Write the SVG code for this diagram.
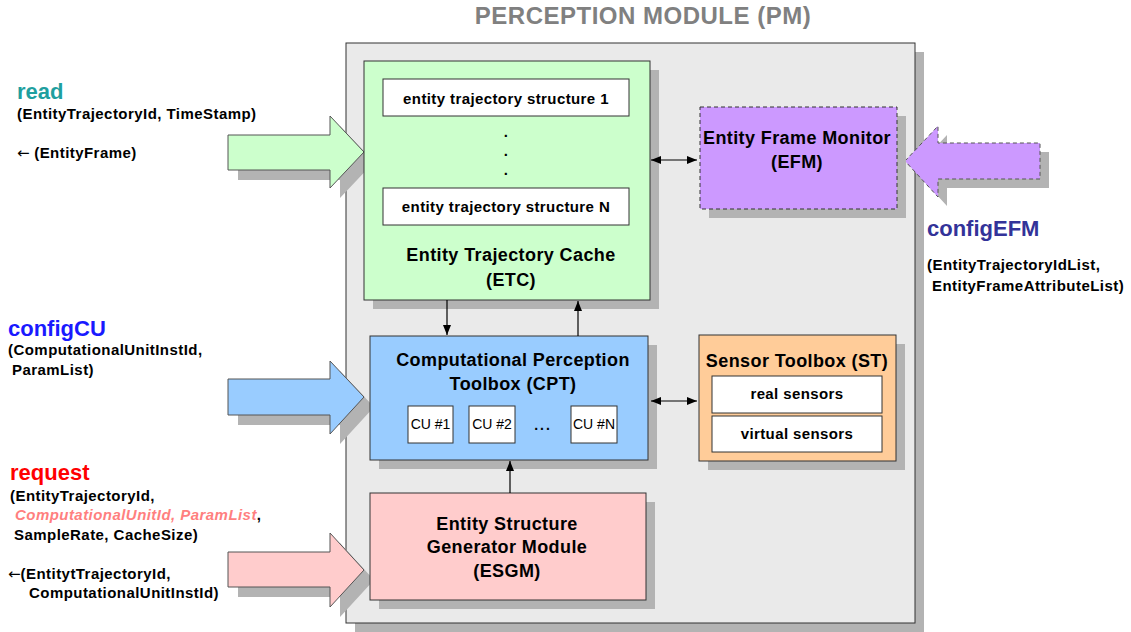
<svg xmlns="http://www.w3.org/2000/svg" width="1131" height="632" viewBox="0 0 1131 632">
<style>
text{font-family:"Liberation Sans",Arial,sans-serif;font-weight:bold;fill:#000}
.t{font-size:24px;fill:#808080;letter-spacing:0.5px}
.op{font-size:22px}
.p{font-size:15px;letter-spacing:0.45px}
.l{font-size:18px;letter-spacing:0.4px;text-anchor:middle}
.s{font-size:15px;letter-spacing:0.4px;text-anchor:middle}
.cu{font-size:14px;font-weight:normal;text-anchor:middle}
.arw{font-family:"DejaVu Sans",sans-serif;font-weight:normal;letter-spacing:0}
.sh{fill:#b3b3b3}
.bx{stroke:#333;stroke-width:1}
.ar{stroke:#555;stroke-width:1}
.cn{stroke:#000;stroke-width:1.2;fill:none}
</style>
<defs>
<marker id="ah" markerUnits="userSpaceOnUse" markerWidth="10" markerHeight="8" refX="10" refY="4" orient="auto-start-reverse">
<path d="M0,0 L10,4 L0,8 z" fill="#000"/>
</marker>
</defs>
<rect width="1131" height="632" fill="#fff"/>
<text class="t" x="643" y="24" text-anchor="middle">PERCEPTION MODULE (PM)</text>

<g id="pm">
<rect class="sh" x="355" y="52" width="569" height="580"/>
<rect class="bx" x="346" y="43" width="569" height="580" fill="#eaeaea"/>
</g>

<g id="read-arrow">
<polygon class="sh" points="238,145 340,145 340,126 374,162 340,198 340,180 238,180"/>
<polygon class="ar" points="228,135 330,135 330,116 364,152 330,188 330,170 228,170" fill="#ccffcc"/>
</g>
<g id="configcu-arrow">
<polygon class="sh" points="238,389 340,389 340,371 374,407 340,444 340,425 238,425"/>
<polygon class="ar" points="228,379 330,379 330,361 364,397 330,434 330,415 228,415" fill="#99ccff"/>
</g>
<g id="request-arrow">
<polygon class="sh" points="238,562 340,562 340,543 374,580 340,617 340,597 238,597"/>
<polygon class="ar" points="228,552 330,552 330,533 364,570 330,607 330,587 228,587" fill="#ffcccc"/>
</g>
<g id="configefm-arrow">
<polygon class="sh" points="914,170 947,135 947,152 1049,152 1049,188 947,188 947,206"/>
<polygon class="ar" points="905,161 938,126 938,143 1040,143 1040,179 938,179 938,197" fill="#cc99ff" stroke="#333" stroke-dasharray="4,3"/>
</g>

<g id="etc">
<rect class="sh" x="373" y="70" width="286" height="239"/>
<rect class="bx" x="364" y="61" width="286" height="239" fill="#ccffcc"/>
<rect class="bx" x="383" y="79" width="246" height="37" fill="#fff"/>
<text class="s" x="506" y="104">entity trajectory structure 1</text>
<text class="s" x="506" y="137">.</text>
<text class="s" x="506" y="156">.</text>
<text class="s" x="506" y="175">.</text>
<rect class="bx" x="383" y="188" width="246" height="37" fill="#fff"/>
<text class="s" x="506" y="212">entity trajectory structure N</text>
<text class="l" x="511" y="261">Entity Trajectory Cache</text>
<text class="l" x="511" y="286">(ETC)</text>
</g>

<g id="efm">
<rect class="sh" x="709" y="116" width="197" height="102"/>
<rect x="700" y="107" width="197" height="102" fill="#cc99ff" stroke="#333" stroke-dasharray="4,3"/>
<text class="l" x="797" y="144">Entity Frame Monitor</text>
<text class="l" x="797" y="168">(EFM)</text>
</g>

<g id="cpt">
<rect class="sh" x="379" y="345" width="278" height="124"/>
<rect class="bx" x="370" y="336" width="278" height="124" fill="#99ccff"/>
<text class="l" x="513" y="366">Computational Perception</text>
<text class="l" x="513" y="390">Toolbox (CPT)</text>
<rect class="bx" x="408" y="406" width="45" height="37" fill="#fff"/>
<text class="cu" x="430.5" y="429">CU #1</text>
<rect class="bx" x="469" y="406" width="46" height="37" fill="#fff"/>
<text class="cu" x="492" y="429">CU #2</text>
<text class="cu" x="543" y="430" style="font-weight:bold;letter-spacing:2px">...</text>
<rect class="bx" x="571" y="406" width="46" height="37" fill="#fff"/>
<text class="cu" x="594" y="429">CU #N</text>
</g>

<g id="st">
<rect class="sh" x="708" y="344" width="197" height="126"/>
<rect class="bx" x="699" y="335" width="197" height="126" fill="#ffcc99"/>
<text class="l" x="797" y="367">Sensor Toolbox (ST)</text>
<rect class="bx" x="712" y="376" width="170" height="37" fill="#fff"/>
<text class="s" x="797" y="399">real sensors</text>
<rect class="bx" x="712" y="416" width="170" height="36" fill="#fff"/>
<text class="s" x="797" y="439">virtual sensors</text>
</g>

<g id="esgm">
<rect class="sh" x="379" y="502" width="276" height="107"/>
<rect class="bx" x="370" y="493" width="276" height="107" fill="#ffcccc"/>
<text class="l" x="507" y="530">Entity Structure</text>
<text class="l" x="507" y="553">Generator Module</text>
<text class="l" x="507" y="577">(ESGM)</text>
</g>

<g id="connectors">
<line class="cn" x1="651" y1="160" x2="697" y2="160" marker-start="url(#ah)" marker-end="url(#ah)"/>
<line class="cn" x1="447" y1="300" x2="447" y2="335" marker-end="url(#ah)"/>
<line class="cn" x1="578" y1="336" x2="578" y2="301" marker-end="url(#ah)"/>
<line class="cn" x1="651" y1="401" x2="697" y2="401" marker-start="url(#ah)" marker-end="url(#ah)"/>
<line class="cn" x1="510" y1="493" x2="510" y2="461" marker-end="url(#ah)"/>
</g>

<g id="read-label">
<text class="op" x="17" y="99" style="fill:#1f9f9f">read</text>
<text class="p" x="17" y="119">(EntityTrajectoryId, TimeStamp)</text>
<text class="p" x="17" y="158"><tspan class="arw">←</tspan> (EntityFrame)</text>
</g>
<g id="configcu-label">
<text class="op" x="8" y="336" style="fill:#1a1aff">configCU</text>
<text class="p" x="8" y="355">(ComputationalUnitInstId,</text>
<text class="p" x="8" y="375"> <tspan x="12">ParamList)</tspan></text>
</g>
<g id="request-label">
<text class="op" x="10" y="480" style="fill:#ff0000">request</text>
<text class="p" x="10" y="501">(EntityTrajectoryId,</text>
<text class="p" x="15" y="520"><tspan style="fill:#ff7f7f;font-style:italic">ComputationalUnitId, ParamList</tspan>,</text>
<text class="p" x="14" y="540">SampleRate, CacheSize)</text>
<text class="p" x="8" y="579"><tspan class="arw">←</tspan>(EntitytTrajectoryId,</text>
<text class="p" x="29" y="598">ComputationalUnitInstId)</text>
</g>
<g id="configefm-label">
<text class="op" x="927" y="236" style="fill:#333399">configEFM</text>
<text class="p" x="927" y="270">(EntityTrajectoryIdList,</text>
<text class="p" x="932" y="291">EntityFrameAttributeList)</text>
</g>
</svg>
